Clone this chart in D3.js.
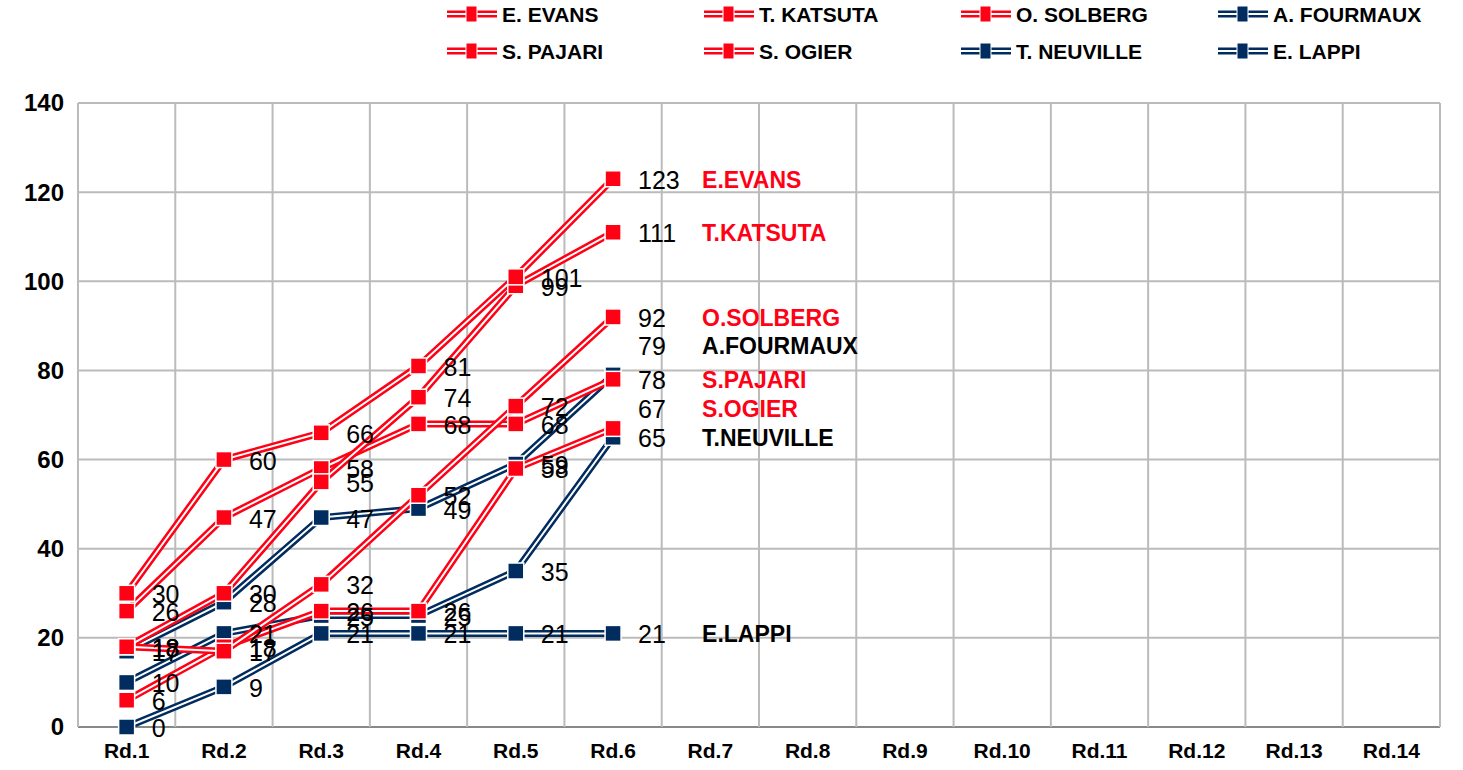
<!DOCTYPE html>
<html><head><meta charset="utf-8">
<script src="https://cdn.jsdelivr.net/npm/d3@7"></script>
<style>body{margin:0;background:#fff}text{font-family:"Liberation Sans",Arial,sans-serif;font-weight:bold}</style>
</head><body>
<script>
var rounds = ["Rd.1","Rd.2","Rd.3","Rd.4","Rd.5","Rd.6","Rd.7","Rd.8","Rd.9","Rd.10","Rd.11","Rd.12","Rd.13","Rd.14"];
var drivers = ["E. EVANS","T. KATSUTA","O. SOLBERG","A. FOURMAUX","S. PAJARI","S. OGIER","T. NEUVILLE","E. LAPPI"];
var shortNames = ["E.EVANS","T.KATSUTA","O.SOLBERG","A.FOURMAUX","S.PAJARI","S.OGIER","T.NEUVILLE","E.LAPPI"];
var teams = ["toyota","toyota","toyota","hyundai","toyota","toyota","hyundai","hyundai"];
var points = [
  [30,60,66,81,101,123],
  [18,30,55,74,99,111],
  [18,17,32,52,72,92],
  [17,28,47,49,59,79],
  [26,47,58,68,68,78],
  [6,18,26,26,58,67],
  [10,21,25,25,35,65],
  [0,9,21,21,21,21]
];
var endLabelShift = [0,0,0,-30,0,-20,0,0];
var yTicks = [0,20,40,60,80,100,120,140];

var colors = {toyota:"#ff0015", hyundai:"#002c5f"};
var textColors = {toyota:"#ff0015", hyundai:"#000"};
var W = 1463, H = 770;
var m = {left:78, right:23, top:103, bottom:43};
var svg = d3.select("body").append("svg").attr("width",W).attr("height",H);
var x = d3.scaleBand().domain(rounds).range([m.left, W-m.right]);
var y = d3.scaleLinear().domain([0,140]).range([H-m.bottom, m.top]);
var cx = function(i){ return x(rounds[i]) + x.bandwidth()/2; };

// grid
var g = svg.append("g");
g.selectAll(".hg").data(yTicks).enter().append("line")
  .attr("x1",m.left).attr("x2",W-m.right).attr("y1",d=>y(d)).attr("y2",d=>y(d))
  .attr("stroke",d=>d===0?"#888":"#bbb").attr("stroke-width",2);
g.selectAll(".vg").data(rounds).enter().append("line")
  .attr("x1",d=>x(d)+x.bandwidth()).attr("x2",d=>x(d)+x.bandwidth())
  .attr("y1",m.top).attr("y2",H-m.bottom).attr("stroke","#bbb").attr("stroke-width",2);
g.append("line").attr("x1",m.left).attr("x2",m.left).attr("y1",m.top).attr("y2",H-m.bottom).attr("stroke","#bbb").attr("stroke-width",2);

// axes
svg.selectAll(".yt").data(yTicks).enter().append("text")
  .attr("x",m.left-14).attr("y",d=>y(d)).attr("dy","0.35em").attr("text-anchor","end")
  .attr("font-size",24).text(d=>d);
svg.selectAll(".xt").data(rounds).enter().append("text")
  .attr("x",(d,i)=>cx(i)).attr("y",H-m.bottom+31).attr("text-anchor","middle")
  .attr("font-size",21).text(d=>d);

var line = d3.line().x((d,i)=>cx(i)).y(d=>y(d));
// lines (hyundai first, toyota on top)
var order = [7,6,3,5,4,2,1,0];
order.forEach(function(s){
  var c = colors[teams[s]];
  svg.append("path").attr("d",line(points[s])).attr("fill","none").attr("stroke",c).attr("stroke-width",7);
  svg.append("path").attr("d",line(points[s])).attr("fill","none").attr("stroke","#fff").attr("stroke-width",2);
});
order.forEach(function(s){
  svg.selectAll(null).data(points[s]).enter().append("rect")
    .attr("x",(d,i)=>cx(i)-8).attr("y",d=>y(d)-8).attr("width",16).attr("height",16)
    .attr("fill",colors[teams[s]]).attr("stroke","#fff").attr("stroke-width",1.5);
});
// value labels
points.forEach(function(p,s){
  svg.selectAll(null).data(p).enter().append("text")
    .attr("x",(d,i)=>cx(i)+25).attr("y",(d,i)=>y(d)+(i===p.length-1?endLabelShift[s]:0)).attr("dy","0.4em")
    .attr("font-size",25).style("font-weight","normal").text(d=>d);
  var last = p.length-1;
  svg.append("text").attr("x",cx(last)+89).attr("y",y(p[last])+endLabelShift[s]).attr("dy","0.38em")
    .attr("font-size",23).attr("fill",textColors[teams[s]]).text(shortNames[s]);
});

// legend
var lg = svg.append("g");
drivers.forEach(function(d,i){
  var col = i%4, row = Math.floor(i/4);
  var lx = 447 + col*257, ly = 14 + row*37;
  var c = colors[teams[i]];
  var li = lg.append("g").attr("transform","translate("+lx+","+ly+")");
  li.append("line").attr("x1",0).attr("x2",50).attr("stroke",c).attr("stroke-width",7);
  li.append("line").attr("x1",0).attr("x2",50).attr("stroke","#fff").attr("stroke-width",2);
  li.append("rect").attr("x",19).attr("y",-8).attr("width",11).attr("height",16).attr("fill",c).attr("stroke","#fff");
  li.append("text").attr("x",55).attr("dy","0.36em").attr("font-size",21)
    .style("font-family","'Liberation Sans Narrow','Liberation Sans',sans-serif").text(d);
});
</script>
</body></html>
